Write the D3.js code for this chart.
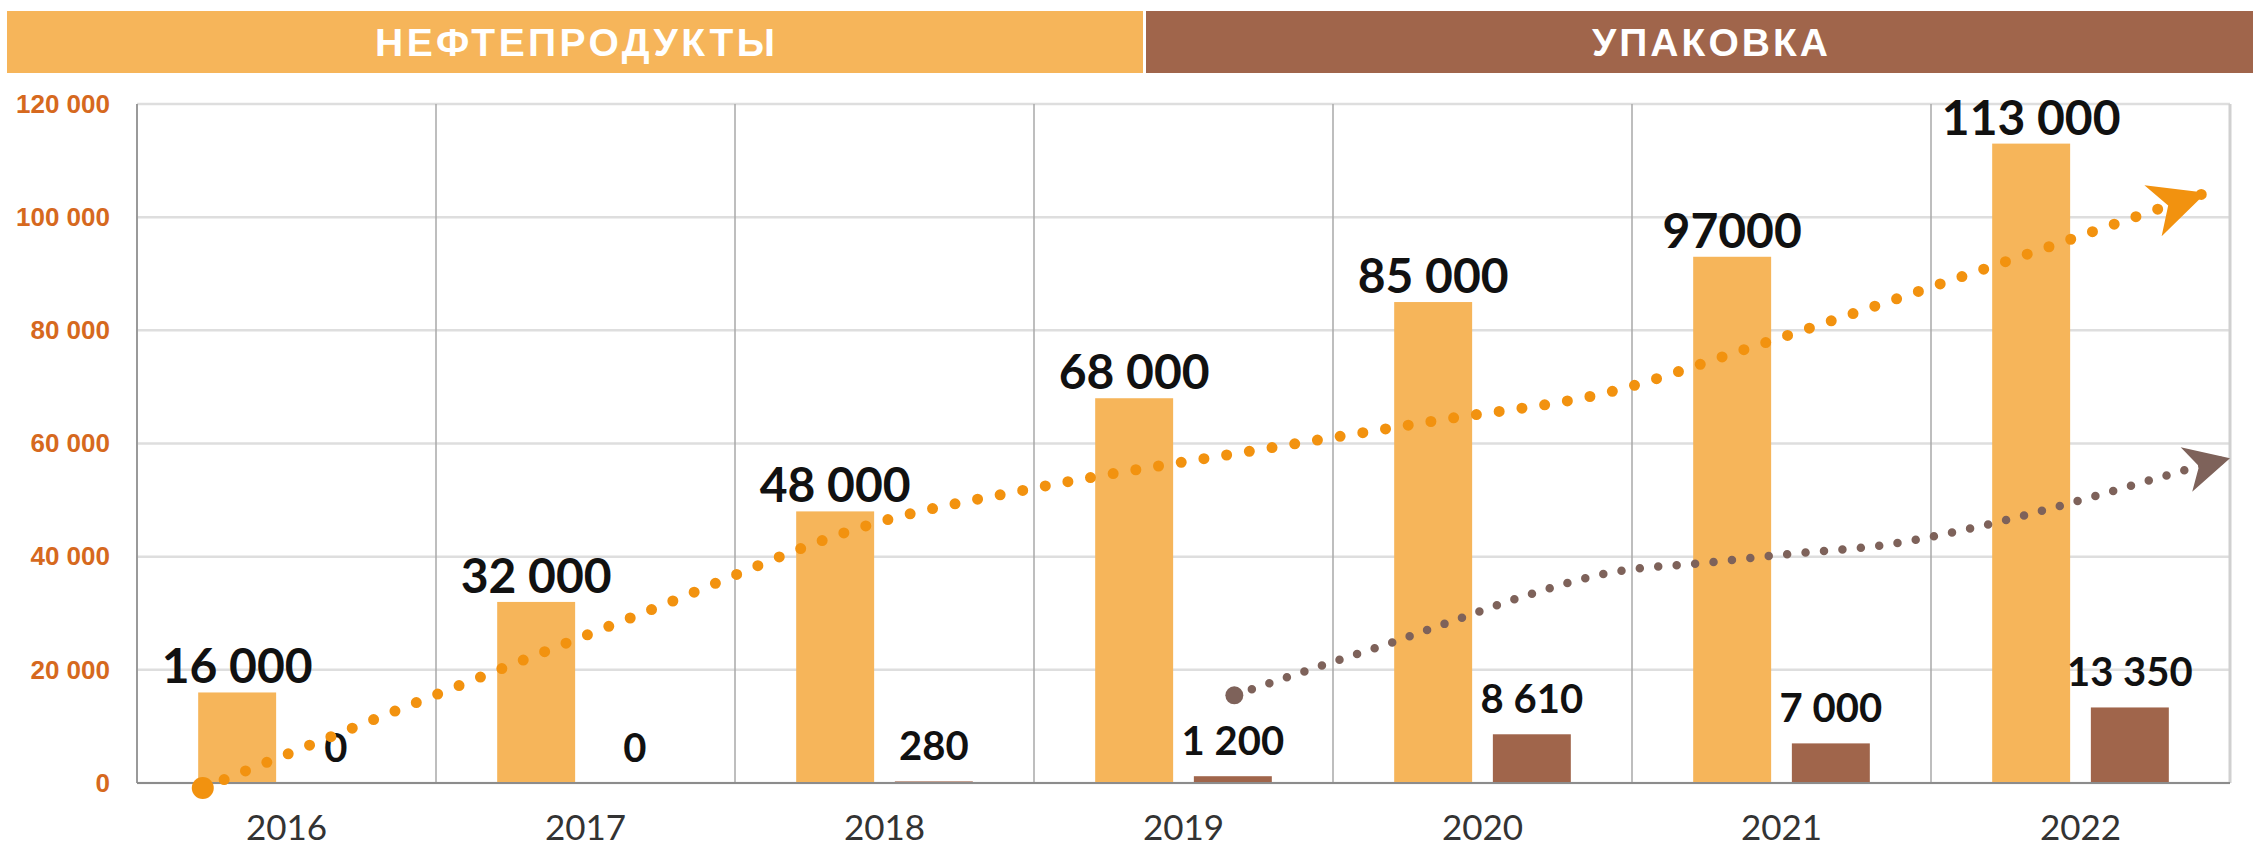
<!DOCTYPE html>
<html>
<head>
<meta charset="utf-8">
<script src="https://cdn.jsdelivr.net/npm/d3@7"></script>
<style>
  html, body { margin: 0; padding: 0; background: #fff; }
  svg { display: block; }
</style>
</head>
<body>
<div id="chart"></div>
<script>
// Datos del gráfico
const years = ["2016", "2017", "2018", "2019", "2020", "2021", "2022"]
const oilValues = [16000, 32000, 48000, 68000, 85000, 93000, 113000]
const oilLabels = ["16 000", "32 000", "48 000", "68 000", "85 000", "97000", "113 000"]
const packValues = [0, 0, 280, 1200, 8610, 7000, 13350]
const packLabels = ["0", "0", "280", "1 200", "8 610", "7 000", "13 350"]
const yTicks = [0, 20000, 40000, 60000, 80000, 100000, 120000]
const sections = ["НЕФТЕПРОДУКТЫ", "УПАКОВКА"]

// Flechas de tendencia: [posición en categorías, valor]
const oilTrend = [[0.22, -900], [1.0, 15600], [1.69, 30000], [2.48, 46100], [3.0, 52100], [3.81, 59400],
    [4.34, 64000], [4.94, 69300], [5.37, 76500], [6.02, 88000], [6.44, 95600], [6.73, 100900], [6.92, 104300]]
const packTrend = [[3.67, 15500], [3.96, 20700], [4.19, 24700], [4.42, 29000], [4.65, 33200], [4.94, 37300],
    [5.24, 38900], [5.55, 40600], [5.85, 42100], [6.15, 45200], [6.44, 49100], [6.68, 52700], [6.85, 55300], [7.0, 57400]]

const width = 2253, height = 849
const colors = {
    oil: "#F6B55A",
    pack: "#A0654B",
    oilTrend: "#F2920F",
    packTrend: "#7E625A",
    axisText: "#D6691E"
}

const svg = d3.select("#chart").append("svg")
    .attr("width", width)
    .attr("height", height)
    .attr("viewBox", [0, 0, width, height])

// Escalas
const x0 = d3.scaleBand().domain(years).range([137, 2230])
const x1 = d3.scaleBand().domain(["oil", "pack"]).range([0, x0.bandwidth()])
    .paddingInner(0.21).paddingOuter(0.62)
const xPos = d3.scaleLinear().domain([0, years.length]).range(x0.range())
const y = d3.scaleLinear().domain([0, 120000]).range([783, 104])

const left = x0.range()[0], right = x0.range()[1]
const locale = d3.formatLocale({ decimal: ",", thousands: " ", grouping: [3], currency: ["", ""] })
const fmt = locale.format(",d")

// Cabecera con secciones
const bands = [
    { text: sections[0], x1: 7, x2: 1143, color: colors.oil, cx: 575, len: 400 },
    { text: sections[1], x1: 1146, x2: 2253, color: colors.pack, cx: 1710, len: 236 }
]
svg.selectAll(".band")
    .data(bands)
    .join("rect")
    .attr("x", d => d.x1)
    .attr("y", 11)
    .attr("width", d => d.x2 - d.x1)
    .attr("height", 62)
    .attr("fill", d => d.color)

svg.selectAll(".band-label")
    .data(bands)
    .join("text")
    .attr("x", d => d.cx)
    .attr("y", 56)
    .attr("text-anchor", "middle")
    .attr("fill", "white")
    .attr("font-family", "'Liberation Sans Narrow', 'Liberation Sans', Arial, sans-serif")
    .attr("font-weight", "bold")
    .attr("font-size", "39px")
    .attr("textLength", d => d.len)
    .attr("lengthAdjust", "spacing")
    .text(d => d.text)

// Rejilla horizontal
svg.append("g")
    .selectAll("line")
    .data(yTicks)
    .join("line")
    .attr("x1", left)
    .attr("x2", right)
    .attr("y1", d => y(d))
    .attr("y2", d => y(d))
    .attr("stroke", "#dedede")
    .attr("stroke-width", 2.5)

// Separadores verticales entre años
svg.append("g")
    .selectAll("line")
    .data(years.slice(1))
    .join("line")
    .attr("x1", d => x0(d))
    .attr("x2", d => x0(d))
    .attr("y1", y(120000))
    .attr("y2", y(0))
    .attr("stroke", "#a8a8a8")
    .attr("stroke-width", 1.5)

svg.append("line")
    .attr("x1", right).attr("x2", right)
    .attr("y1", y(120000)).attr("y2", y(0))
    .attr("stroke", "#d0d0d0")
    .attr("stroke-width", 3)

// Eje Y
const yAxis = svg.append("g")
    .attr("transform", `translate(${left},0)`)
    .call(d3.axisLeft(y).tickValues(yTicks).tickSize(0).tickPadding(27).tickFormat(fmt))
yAxis.select(".domain").remove()
yAxis.selectAll("text")
    .attr("fill", colors.axisText)
    .attr("font-family", "'Liberation Sans', Arial, sans-serif")
    .attr("font-weight", "bold")
    .attr("font-size", "26px")

svg.append("line")
    .attr("x1", left).attr("x2", left)
    .attr("y1", y(120000)).attr("y2", y(0))
    .attr("stroke", "#9a9a9a")
    .attr("stroke-width", 2)

// Barras
const rows = years.map((yr, i) => ({ year: yr, oil: oilValues[i], pack: packValues[i], oilLabel: oilLabels[i], packLabel: packLabels[i] }))

const groups = svg.append("g")
    .selectAll("g")
    .data(rows)
    .join("g")
    .attr("transform", d => `translate(${x0(d.year)},0)`)

groups.append("rect")
    .attr("x", x1("oil"))
    .attr("y", d => y(d.oil))
    .attr("width", x1.bandwidth())
    .attr("height", d => y(0) - y(d.oil))
    .attr("fill", colors.oil)

groups.append("rect")
    .attr("x", x1("pack"))
    .attr("y", d => y(d.pack))
    .attr("width", x1.bandwidth())
    .attr("height", d => y(0) - y(d.pack))
    .attr("fill", colors.pack)

// Eje X (línea base)
svg.append("line")
    .attr("x1", left).attr("x2", right)
    .attr("y1", y(0)).attr("y2", y(0))
    .attr("stroke", "#8c8c8c")
    .attr("stroke-width", 2)

const xAxis = svg.append("g")
    .attr("transform", `translate(0,${y(0)})`)
    .call(d3.axisBottom(x0).tickSize(0).tickPadding(0))
xAxis.select(".domain").remove()
xAxis.selectAll("text")
    .attr("y", 57)
    .attr("dy", null)
    .attr("fill", "#333")
    .attr("font-family", "Lato, 'Open Sans', sans-serif")
    .attr("font-size", "35px")

// Tendencias punteadas con flecha
const defs = svg.append("defs")
const arrows = [
    { id: "arrow-oil", color: colors.oilTrend, len: 56, half: 27, notch: 40 },
    { id: "arrow-pack", color: colors.packTrend, len: 45, half: 23, notch: 32 }
]
arrows.forEach(a => {
    defs.append("marker")
        .attr("id", a.id)
        .attr("markerUnits", "userSpaceOnUse")
        .attr("viewBox", `${-a.len - 2} ${-a.half - 2} ${a.len + 4} ${2 * a.half + 4}`)
        .attr("markerWidth", a.len + 4)
        .attr("markerHeight", 2 * a.half + 4)
        .attr("refX", 0)
        .attr("refY", 0)
        .attr("orient", "auto")
        .append("path")
        .attr("d", `M0,0 L${-a.len},${-a.half} L${-a.notch},0 L${-a.len},${a.half} Z`)
        .attr("fill", a.color)
})

const trendLine = d3.line()
    .x(d => xPos(d[0]))
    .y(d => y(d[1]))
    .curve(d3.curveMonotoneX)

svg.append("path")
    .attr("d", trendLine(oilTrend))
    .attr("fill", "none")
    .attr("stroke", colors.oilTrend)
    .attr("stroke-width", 11)
    .attr("stroke-linecap", "round")
    .attr("stroke-dasharray", "0 23")
    .attr("marker-end", "url(#arrow-oil)")

svg.append("circle")
    .attr("cx", xPos(oilTrend[0][0]))
    .attr("cy", y(oilTrend[0][1]))
    .attr("r", 11)
    .attr("fill", colors.oilTrend)

svg.append("path")
    .attr("d", trendLine(packTrend))
    .attr("fill", "none")
    .attr("stroke", colors.packTrend)
    .attr("stroke-width", 8.5)
    .attr("stroke-linecap", "round")
    .attr("stroke-dasharray", "0 18.5")
    .attr("marker-end", "url(#arrow-pack)")

svg.append("circle")
    .attr("cx", xPos(packTrend[0][0]))
    .attr("cy", y(packTrend[0][1]))
    .attr("r", 9)
    .attr("fill", colors.packTrend)

// Etiquetas de valores
groups.append("text")
    .attr("x", x1("oil") + x1.bandwidth() / 2)
    .attr("y", d => y(d.oil) - 9)
    .attr("text-anchor", "middle")
    .attr("fill", "#111")
    .attr("font-family", "Lato, 'Open Sans', sans-serif")
    .attr("font-weight", 700)
    .attr("font-size", "48px")
    .text(d => d.oilLabel)

groups.append("text")
    .attr("x", x1("pack") + x1.bandwidth() / 2)
    .attr("y", d => y(d.pack) - 21)
    .attr("text-anchor", "middle")
    .attr("fill", "#111")
    .attr("font-family", "Lato, 'Open Sans', sans-serif")
    .attr("font-weight", 700)
    .attr("font-size", "40px")
    .text(d => d.packLabel)
</script>
</body>
</html>
